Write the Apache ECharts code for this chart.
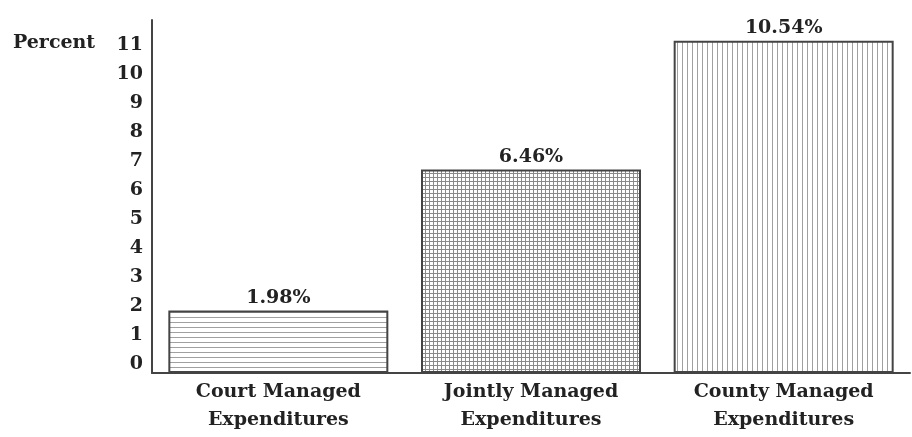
<!DOCTYPE html>
<html>
<head>
<meta charset="utf-8">
<script src="https://cdn.jsdelivr.net/npm/echarts@6/dist/echarts.min.js"></script>
<style>
html,body{margin:0;padding:0;background:#fff;}
#main{width:912px;height:437px;}
</style>
</head>
<body>
<div id="main"></div>
<script>
const categories = ['Court Managed\nExpenditures', 'Jointly Managed\nExpenditures', 'County Managed\nExpenditures'];
const values = [1.98, 6.46, 10.54];
const valueLabels = ['1.98%', '6.46%', '10.54%'];
const tickLabels = ['0','1','2','3','4','5','6','7','8','9','10','11'];
const axisTitle = 'Percent';

function makePattern(kind) {
  const c = document.createElement('canvas');
  const ctx = c.getContext('2d');
  if (kind === 'h') {
    c.width = 8; c.height = 5;
    ctx.fillStyle = '#fff'; ctx.fillRect(0, 0, 8, 5);
    ctx.strokeStyle = '#a0a0a0'; ctx.lineWidth = 1;
    ctx.beginPath(); ctx.moveTo(0, 2.5); ctx.lineTo(8, 2.5); ctx.stroke();
  } else if (kind === 'g') {
    c.width = 4; c.height = 4;
    ctx.fillStyle = '#fff'; ctx.fillRect(0, 0, 4, 4);
    ctx.strokeStyle = '#8a8a8a'; ctx.lineWidth = 1;
    ctx.beginPath();
    ctx.moveTo(0, 1.5); ctx.lineTo(4, 1.5);
    ctx.moveTo(1.5, 0); ctx.lineTo(1.5, 4);
    ctx.stroke();
  } else {
    c.width = 5; c.height = 8;
    ctx.fillStyle = '#fff'; ctx.fillRect(0, 0, 5, 8);
    ctx.strokeStyle = '#a0a0a0'; ctx.lineWidth = 1;
    ctx.beginPath(); ctx.moveTo(2.5, 0); ctx.lineTo(2.5, 8); ctx.stroke();
  }
  return { image: c, repeat: 'repeat' };
}
const patterns = [makePattern('h'), makePattern('g'), makePattern('v')];

const FONT = '"DejaVu Serif", "Liberation Serif", serif';
const chart = echarts.init(document.getElementById('main'), null, { renderer: 'canvas' });
chart.setOption({
  animation: false,
  backgroundColor: '#fff',
  textStyle: { fontFamily: FONT },
  graphic: [{
    type: 'text', left: 13, top: 34,
    style: { text: axisTitle, font: 'bold 19px ' + FONT, fill: '#222' }
  }],
  grid: [
    { left: 152, right: 2, top: 45, bottom: 73, containLabel: false },
    { left: 152, right: 2, top: 20, bottom: 64, containLabel: false }
  ],
  xAxis: [
    { gridIndex: 0, type: 'category', data: categories, show: false },
    {
      gridIndex: 1, type: 'category', data: categories,
      axisLine: { show: true, lineStyle: { color: '#444', width: 2 } },
      axisTick: { show: false },
      axisLabel: {
        interval: 0, margin: 5, color: '#222', fontFamily: FONT,
        fontWeight: 'bold', fontSize: 19, lineHeight: 28
      }
    }
  ],
  yAxis: [
    {
      gridIndex: 0, type: 'value', min: 0, max: 11, interval: 1,
      axisLine: { show: false }, axisTick: { show: false }, splitLine: { show: false },
      axisLabel: {
        margin: 9, color: '#222', fontFamily: FONT, fontWeight: 'bold', fontSize: 19,
        formatter: function (v) { return tickLabels[Math.round(v)] || ''; }
      }
    },
    {
      gridIndex: 1, type: 'value', min: 0, max: 11.2,
      axisLine: { show: true, lineStyle: { color: '#444', width: 2 } },
      axisTick: { show: false }, splitLine: { show: false }, axisLabel: { show: false }
    }
  ],
  series: [{
    type: 'bar', xAxisIndex: 1, yAxisIndex: 1,
    barWidth: 220,
    data: values.map(function (v, i) {
      return { value: v, itemStyle: { color: patterns[i] } };
    }),
    itemStyle: { borderColor: '#444', borderWidth: 2 },
    label: {
      show: true, position: 'top', distance: 3,
      color: '#222', fontFamily: FONT, fontWeight: 'bold', fontSize: 19,
      formatter: function (p) { return valueLabels[p.dataIndex]; }
    }
  }]
});
</script>
</body>
</html>
